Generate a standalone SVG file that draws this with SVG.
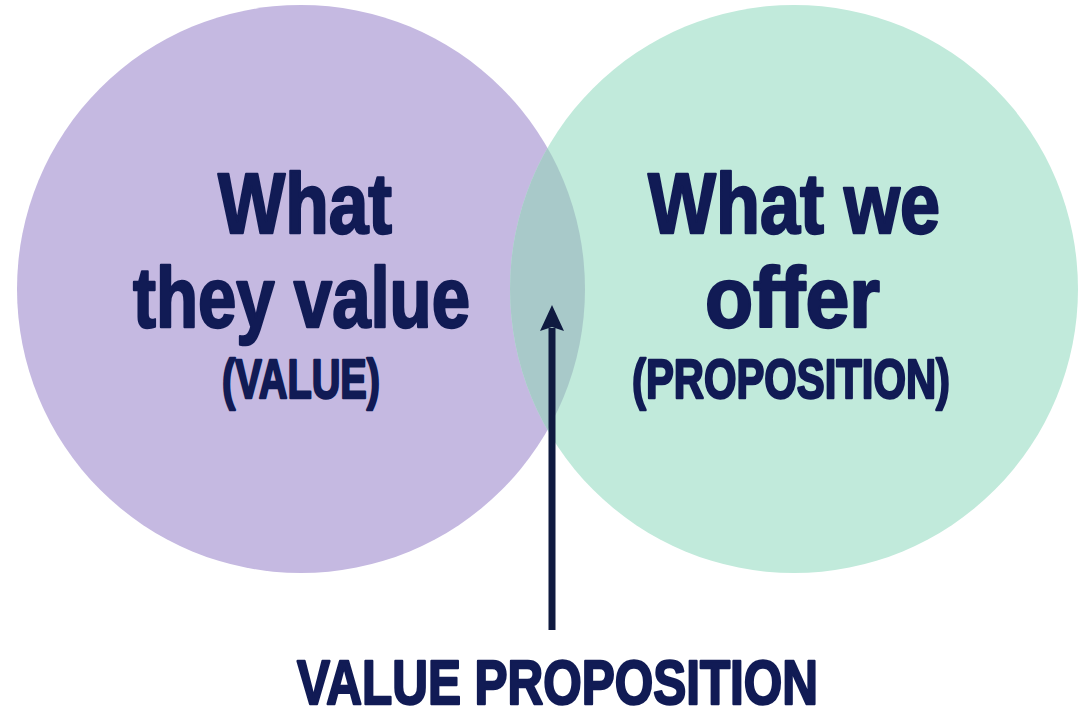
<svg xmlns="http://www.w3.org/2000/svg" width="1086" height="718" viewBox="0 0 1086 718">
  <defs>
    <style>
      .label { font-family: "Liberation Sans", Arial, sans-serif; font-weight: bold; fill: #111b55; stroke: #111b55; stroke-width: 2.4; stroke-linejoin: round; }
      .big { font-size: 85px; }
      .small { font-size: 56px; }
      .caption { font-size: 63px; }
      .conn { stroke: #0f1a40; stroke-width: 7; fill: none; }
    </style>
    <clipPath id="clipLeft">
      <circle cx="301" cy="289" r="284"/>
    </clipPath>
    <marker id="head" viewBox="0 0 26 24" refX="3" refY="12" markerWidth="26" markerHeight="24" markerUnits="userSpaceOnUse" orient="auto">
      <path d="M0 0 L26 12 L0 24 L4 12 Z" fill="#0f1a40"/>
    </marker>
  </defs>

  <rect width="1086" height="718" fill="#ffffff"/>

  <!-- left set -->
  <g id="node-value">
    <circle cx="301" cy="289" r="284" fill="#c5b9e1"/>
    <text class="label big" x="218" y="233" textLength="174" lengthAdjust="spacingAndGlyphs">What</text>
    <text class="label big" x="133" y="327" textLength="337" lengthAdjust="spacingAndGlyphs">they value</text>
    <text class="label small" x="222" y="398" textLength="158" lengthAdjust="spacingAndGlyphs">(VALUE)</text>
  </g>

  <!-- right set -->
  <g id="node-proposition">
    <circle cx="794" cy="289" r="284" fill="#c1eadb"/>
    <text class="label big" x="648" y="233" textLength="292" lengthAdjust="spacingAndGlyphs">What we</text>
    <text class="label big" x="705" y="327" textLength="175" lengthAdjust="spacingAndGlyphs">offer</text>
    <text class="label small" x="632" y="398" textLength="318" lengthAdjust="spacingAndGlyphs">(PROPOSITION)</text>
  </g>

  <!-- intersection lens -->
  <g id="node-overlap">
    <circle cx="794" cy="289" r="284" fill="#a8c9c9" clip-path="url(#clipLeft)"/>
  </g>

  <!-- pointer to the overlap -->
  <g id="connectors">
    <line class="conn" x1="552" y1="630" x2="552" y2="328" marker-end="url(#head)"/>
  </g>

  <g id="node-caption">
    <text class="label caption" x="297" y="704" textLength="521" lengthAdjust="spacingAndGlyphs">VALUE PROPOSITION</text>
  </g>
</svg>
